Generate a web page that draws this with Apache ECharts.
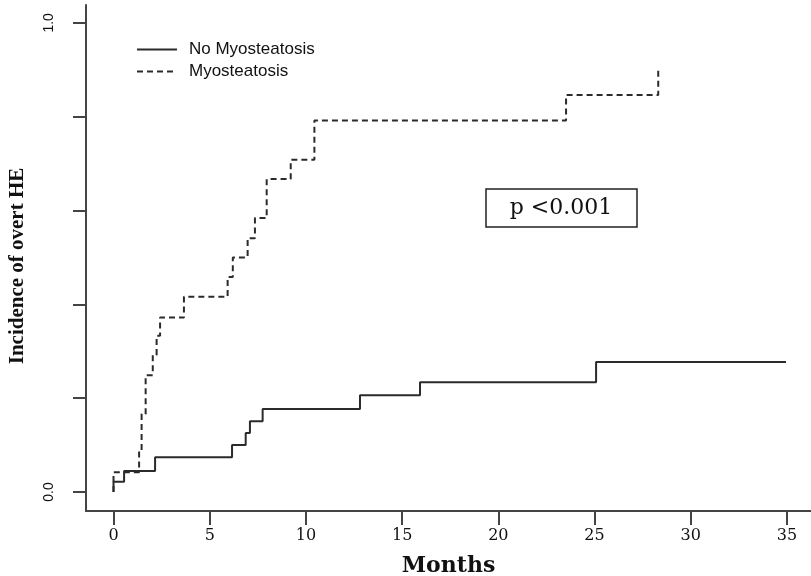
<!DOCTYPE html>
<html lang="en">
<head>
  <meta charset="UTF-8">
  <title>Incidence of overt HE</title>
</head>
<body style="margin:0;background:#fff;">
  <div id="main" style="width:811px;height:576px;"></div>

  <script src="https://cdn.jsdelivr.net/npm/echarts@6/dist/echarts.min.js"></script>
  <script>
    // tick positions
    const monthTicks = [0, 5, 10, 15, 20, 25, 30, 35];
    const incidenceTicks = [0, 0.2, 0.4, 0.6, 0.8, 1.0];
    const incidenceLabels = [0, 1.0];

    // cumulative incidence
    const noMyoMonths = [0, 0, 0.55, 2.16, 6.16, 6.87, 7.09, 7.75, 12.81, 15.93, 25.08, 34.95];
    const noMyoValues = [0, 0.022, 0.045, 0.074, 0.100, 0.126, 0.151, 0.177, 0.206, 0.234, 0.277, 0.277];

    const myoMonths = [0, 0, 1.33, 1.46, 1.67, 2.04, 2.24, 2.42, 3.66, 5.93, 6.2, 6.97, 7.35, 7.96, 9.21, 10.44, 23.52, 28.31];
    const myoValues = [0, 0.042, 0.085, 0.166, 0.249, 0.292, 0.333, 0.372, 0.416, 0.458, 0.500, 0.541, 0.584, 0.667, 0.708, 0.792, 0.846, 0.900];

    const pair = (xs, ys) => xs.map((x, i) => [x, ys[i]]);

    const myChart = echarts.init(document.getElementById('main'));

    const options = {
      backgroundColor: '#fff',
      animation: false,
      grid: {
        left: 86,
        right: 0,
        top: 5,
        bottom: 65,
        outerBoundsMode: 'none'
      },
      legend: {
        orient: 'vertical',
        left: 131,
        top: 36,
        itemWidth: 40,
        itemHeight: 14,
        itemGap: 5,
        itemStyle: { opacity: 0 },
        textStyle: {
          fontFamily: 'Liberation Sans',
          fontSize: 17,
          color: '#111',
          padding: [0, 0, 0, 7]
        },
        data: ['No Myosteatosis', 'Myosteatosis']
      },
      xAxis: {
        type: 'value',
        min: -1.43,
        max: 36.25,
        name: 'Months',
        nameLocation: 'middle',
        nameGap: 44,
        nameTextStyle: {
          fontFamily: 'DejaVu Serif',
          fontWeight: 'bold',
          fontSize: 22,
          color: '#111'
        },
        splitLine: { show: false },
        axisLine: { onZero: false, lineStyle: { color: '#444', width: 2 } },
        axisTick: {
          length: 14,
          customValues: monthTicks,
          lineStyle: { color: '#444', width: 2 }
        },
        axisLabel: {
          customValues: monthTicks,
          margin: 17,
          fontFamily: 'DejaVu Serif',
          fontSize: 16,
          color: '#111'
        }
      },
      yAxis: {
        type: 'value',
        min: -0.0405,
        max: 1.038,
        name: 'Incidence of overt HE',
        nameLocation: 'middle',
        nameRotate: 90,
        nameGap: 58,
        nameTextStyle: {
          fontFamily: 'Liberation Serif',
          fontWeight: 'bold',
          fontSize: 21,
          color: '#111',
          padding: [0, 0, 0, -16]
        },
        splitLine: { show: false },
        axisLine: { onZero: false, lineStyle: { color: '#444', width: 2 } },
        axisTick: {
          length: 13,
          customValues: incidenceTicks,
          lineStyle: { color: '#444', width: 2 }
        },
        axisLabel: {
          customValues: incidenceLabels,
          rotate: 90,
          margin: 30,
          fontFamily: 'Liberation Sans',
          fontSize: 14,
          color: '#111',
          formatter: v => v.toFixed(1)
        }
      },
      graphic: [{
        type: 'rect',
        shape: { x: 486, y: 189, width: 151, height: 38 },
        style: { fill: '#fff', stroke: '#222', lineWidth: 1.5 }
      }, {
        type: 'text',
        x: 561,
        y: 208,
        style: {
          text: 'p <0.001',
          fontFamily: 'DejaVu Serif',
          fontSize: 22,
          fill: '#111',
          align: 'center',
          verticalAlign: 'middle'
        }
      }],
      series: [{
        name: 'No Myosteatosis',
        type: 'line',
        step: 'end',
        symbol: 'none',
        lineStyle: { color: '#2b2b2b', width: 2 },
        itemStyle: { color: '#2b2b2b' },
        data: pair(noMyoMonths, noMyoValues)
      }, {
        name: 'Myosteatosis',
        type: 'line',
        step: 'end',
        symbol: 'none',
        lineStyle: { color: '#2b2b2b', width: 2, type: [6, 4] },
        itemStyle: { color: '#2b2b2b' },
        data: pair(myoMonths, myoValues)
      }]
    };

    myChart.setOption(options);
  </script>
</body>
</html>
